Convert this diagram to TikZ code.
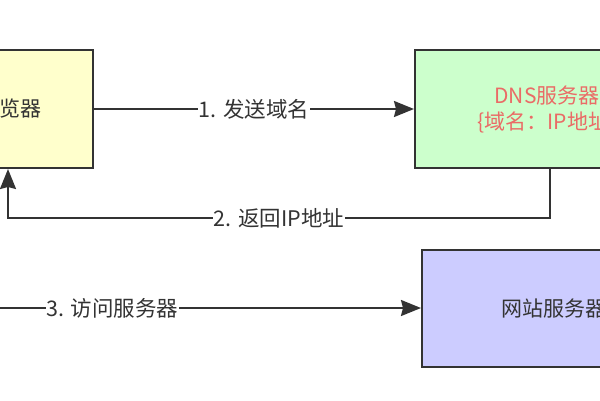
\documentclass[tikz,border=0pt]{standalone}
\usepackage{fontspec}
\setmainfont{Noto Sans CJK SC}
\usetikzlibrary{arrows.meta}
\definecolor{edge}{HTML}{333333}
\definecolor{yel}{HTML}{FFFFCC}
\definecolor{grn}{HTML}{CCFFCC}
\definecolor{pur}{HTML}{CCCCFF}
\definecolor{redtxt}{HTML}{EA6B66}
\begin{document}
\begin{tikzpicture}[x=1pt,y=-1pt,
  box/.style={draw=edge,line width=2pt,minimum width=264pt,minimum height=118pt,inner sep=0pt,text=edge,align=center,font=\fontsize{21}{26}\selectfont},
  conn/.style={draw=edge,line width=2pt,-{Stealth[length=20pt,width=16pt,inset=2pt]}},
  lbl/.style={fill=white,text=edge,inner sep=1pt,font=\fontsize{21.5}{24}\selectfont}]
\useasboundingbox (0,0) rectangle (600,400);
\node[box,fill=yel,minimum width=166pt] (browser) at (10,109) {浏览器};
\node[box,fill=grn,text=redtxt] (dns) at (547,109) {DNS服务器\\\{域名：IP地址\}};
\node[box,fill=pur,minimum height=117pt] (web) at (554,308.5) {网站服务器};
\coordinate (c1) at (550,218);
\coordinate (c2) at (8,218);
\coordinate (c3) at (-196,308);
\draw[conn] (browser.east) -- node[lbl] (l1) {1. 发送域名} (dns.west);
\draw[conn] (dns.south -| c1) -- (c1) -- node[lbl] (l2) {2. 返回IP地址} (c2) -- (browser.south -| c2);
\draw[conn] (c3) -- node[lbl] (l3) {3. 访问服务器} (web.west |- c3);
\end{tikzpicture}
\end{document}
